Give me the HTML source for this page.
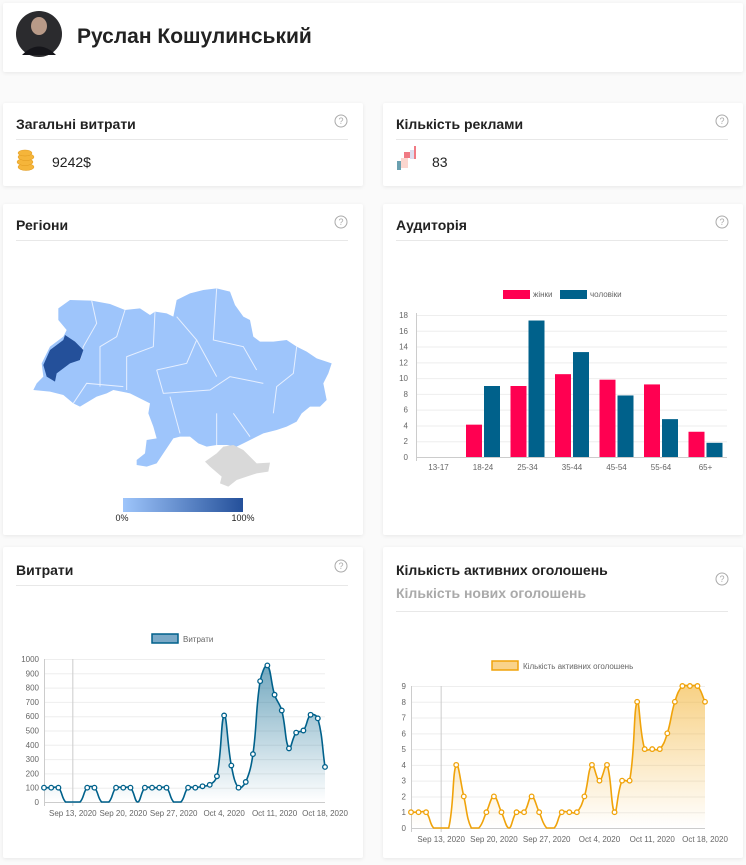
<!DOCTYPE html>
<html><head><meta charset="utf-8">
<style>
html,body{margin:0;padding:0;width:746px;height:865px;background:#fafafa;overflow:hidden;font-family:"Liberation Sans",sans-serif;}
.card{position:absolute;background:#fff;box-shadow:0 1px 4px rgba(0,0,0,0.08);border-radius:2px;}
svg{position:absolute;left:0;top:0;}
</style></head><body>
<div class="card" style="left:3px;top:3px;width:740px;height:69px"></div>
<div class="card" style="left:3px;top:103px;width:360px;height:83px"></div>
<div class="card" style="left:383px;top:103px;width:360px;height:83px"></div>
<div class="card" style="left:3px;top:204px;width:360px;height:331px"></div>
<div class="card" style="left:383px;top:204px;width:360px;height:331px"></div>
<div class="card" style="left:3px;top:547px;width:360px;height:311px"></div>
<div class="card" style="left:383px;top:547px;width:360px;height:311px"></div>
<svg id="s" width="746" height="865" xmlns="http://www.w3.org/2000/svg" font-family="Liberation Sans, sans-serif">
<defs>
<linearGradient id="gb" x1="0" y1="0" x2="0" y2="1"><stop offset="0" stop-color="#00618b" stop-opacity="0.55"/><stop offset="1" stop-color="#00618b" stop-opacity="0"/></linearGradient>
<linearGradient id="go" x1="0" y1="0" x2="0" y2="1"><stop offset="0" stop-color="#f0a30a" stop-opacity="0.5"/><stop offset="1" stop-color="#f0a30a" stop-opacity="0"/></linearGradient>
<linearGradient id="gm" x1="0" y1="0" x2="1" y2="0"><stop offset="0" stop-color="#9ec5fb"/><stop offset="1" stop-color="#24509a"/></linearGradient>
</defs>
<!-- header -->
<circle cx="39" cy="34" r="23" fill="#2b2b2e"/>
<ellipse cx="39" cy="26" rx="8" ry="9" fill="#b89a88"/>
<path d="M22 55 Q39 38 56 55 Z" fill="#15151a"/>
<text x="77" y="43" font-size="21" font-weight="bold" fill="#222">Руслан Кошулинський</text>
<!-- card titles -->
<g font-size="14" font-weight="bold" fill="#222">
<text x="16" y="129">Загальні витрати</text>
<text x="396" y="129">Кількість реклами</text>
<text x="16" y="230">Регіони</text>
<text x="396" y="230">Аудиторія</text>
<text x="16" y="575">Витрати</text>
<text x="396" y="575">Кількість активних оголошень</text>
<text x="396" y="598" fill="#aaa">Кількість нових оголошень</text>
</g>
<g stroke="#e8e8e8" stroke-width="1">
<line x1="16" y1="139.5" x2="348" y2="139.5"/><line x1="396" y1="139.5" x2="728" y2="139.5"/>
<line x1="16" y1="240.5" x2="348" y2="240.5"/><line x1="396" y1="240.5" x2="728" y2="240.5"/>
<line x1="16" y1="585.5" x2="348" y2="585.5"/><line x1="396" y1="611.5" x2="728" y2="611.5"/>
</g>
<g fill="none" stroke="#aaa" stroke-width="1" font-size="9" text-anchor="middle">
<circle cx="341" cy="121" r="6"/><circle cx="722" cy="121" r="6"/><circle cx="341" cy="222" r="6"/><circle cx="722" cy="222" r="6"/><circle cx="341" cy="566" r="6"/><circle cx="722" cy="579" r="6"/>
</g>
<g font-size="9" fill="#aaa" text-anchor="middle">
<text x="341" y="124">?</text><text x="722" y="124">?</text><text x="341" y="225">?</text><text x="722" y="225">?</text><text x="341" y="569">?</text><text x="722" y="582">?</text>
</g>
<!-- coins -->
<g fill="#f5b53a" stroke="#e09a20" stroke-width="0.5">
<ellipse cx="26" cy="167" rx="8" ry="3.5"/><ellipse cx="25" cy="162" rx="8" ry="3.5"/><ellipse cx="26" cy="157" rx="8" ry="3.5"/><ellipse cx="25" cy="153" rx="7" ry="3"/>
</g>
<text x="52" y="167" font-size="14" fill="#222">9242$</text>
<!-- megaphone -->
<rect x="397" y="161" width="4" height="9" fill="#6aa0b0"/><rect x="401" y="158" width="7" height="10" fill="#fbd6cf"/><rect x="404" y="152" width="6" height="6" fill="#f07a84"/><rect x="410" y="150" width="4" height="9" fill="#dde"/><rect x="414" y="146" width="2" height="13" fill="#f07a84"/>
<text x="432" y="167" font-size="14" fill="#222">83</text>
<!-- map -->
<g transform="translate(30 280) scale(0.33333)">
<path d="M85,85 L120,60 185,62 240,72 285,90 330,85 360,105 375,95 410,100 430,110 440,60 480,40 520,30 560,25 600,35 615,75 640,110 660,120 670,170 690,185 730,185 770,180 800,200 830,215 860,235 905,250 895,280 880,310 890,360 870,380 840,380 815,400 800,425 770,440 740,450 700,460 670,475 640,490 620,500 590,495 560,495 530,500 505,490 480,470 450,470 430,475 420,490 400,520 380,550 350,560 320,555 320,540 345,520 350,480 380,475 370,440 355,400 360,370 300,340 250,330 230,340 200,350 150,380 130,370 100,345 60,335 10,330 20,310 40,290 35,250 60,200 100,170 110,150 85,120 Z" fill="#9ec5fb"/>
<g fill="none" stroke="#e6efff" stroke-width="3">
<path d="M185,62 L200,130 160,200 150,240"/><path d="M285,90 L260,170 210,200 210,320"/><path d="M375,95 L370,200 290,230 290,330"/><path d="M440,110 L500,180 470,250 380,270"/><path d="M560,25 L550,180 640,200 680,270"/><path d="M800,200 L790,280 740,320 730,400"/><path d="M380,270 L400,340 540,330 600,290 700,310"/><path d="M420,350 L450,460"/><path d="M560,400 L560,495"/><path d="M610,400 L660,470"/><path d="M130,370 L170,310 280,320"/><path d="M500,180 L560,290"/></g>
<path d="M105,165 L135,185 160,210 150,240 120,250 80,280 75,305 50,290 40,255 60,210 100,180 Z" fill="#24509a"/>
<path d="M525,545 L560,520 580,500 610,495 640,510 680,550 720,548 715,575 680,580 650,590 620,600 595,620 570,610 575,590 540,560 Z" fill="#d9d9d9"/>
</g>
<rect x="123" y="498" width="120" height="14" fill="url(#gm)"/>
<text x="122" y="521" font-size="9" fill="#222" text-anchor="middle">0%</text>
<text x="243" y="521" font-size="9" fill="#222" text-anchor="middle">100%</text>
<g id="dyn"></g>
</svg>
<script>
var NS="http://www.w3.org/2000/svg",g=document.getElementById("dyn");
function el(t,a,txt){var e=document.createElementNS(NS,t);for(var k in a)e.setAttribute(k,a[k]);if(txt!=null)e.textContent=txt;g.appendChild(e);return e;}
// bar chart
el("rect",{x:503,y:290,width:27,height:9,fill:"#ff0051"});el("text",{x:533,y:297,"font-size":8,fill:"#666"},"жінки");
el("rect",{x:560,y:290,width:27,height:9,fill:"#00618b"});el("text",{x:590,y:297,"font-size":8,fill:"#666"},"чоловіки");
var y0=457,y18=315;function by(v){return y0-(y0-y18)*v/18;}
for(var v=0;v<=18;v+=2){el("line",{x1:416,x2:727,y1:by(v)+.5,y2:by(v)+.5,stroke:v?"#eee":"#ccc"});el("text",{x:408,y:by(v)+3,"font-size":8,fill:"#666","text-anchor":"end"},v);}
el("line",{x1:416.5,x2:416.5,y1:313,y2:461,stroke:"#ccc"});
var cats=["13-17","18-24","25-34","35-44","45-54","55-64","65+"],f=[0,4.1,9,10.5,9.8,9.2,3.2],m=[0,9,17.3,13.3,7.8,4.8,1.8];
for(var i=0;i<7;i++){var c=438.5+i*44.5;
 if(f[i])el("rect",{x:c-17,y:by(f[i]),width:16,height:y0-by(f[i]),fill:"#ff0051"});
 if(m[i])el("rect",{x:c+1,y:by(m[i]),width:16,height:y0-by(m[i]),fill:"#00618b"});
 el("text",{x:c,y:470,"font-size":8,fill:"#666","text-anchor":"middle"},cats[i]);}
function spline(pts,t,ymax){var cps=[];for(var i=0;i<pts.length;i++){var p=pts[i],pr=pts[i-1]||p,nx=pts[i+1]||p;
 var d1=Math.hypot(p[0]-pr[0],p[1]-pr[1]),d2=Math.hypot(nx[0]-p[0],nx[1]-p[1]),s=d1+d2||1,fa=t*d1/s,fb=t*d2/s;
 var c1=[p[0]-fa*(nx[0]-pr[0]),Math.min(ymax,p[1]-fa*(nx[1]-pr[1]))],c2=[p[0]+fb*(nx[0]-pr[0]),Math.min(ymax,p[1]+fb*(nx[1]-pr[1]))];cps.push([c1,c2]);}
 var d="M"+pts[0][0]+","+pts[0][1];for(var i=1;i<pts.length;i++){d+=" C"+cps[i-1][1][0]+","+cps[i-1][1][1]+" "+cps[i][0][0]+","+cps[i][0][1]+" "+pts[i][0]+","+pts[i][1];}return d;}
function line(o){var ys=function(v){return o.yb-(o.yb-o.yt)*v/o.max;};
 el("rect",{x:o.lx,y:o.ly,width:26,height:9,fill:o.lfill,stroke:o.col,"stroke-width":1.5});
 el("text",{x:o.lx+31,y:o.ly+8,"font-size":8,fill:"#666"},o.ltxt);
 for(var v=0;v<=o.max;v+=o.step){el("line",{x1:o.x0,x2:o.x1,y1:ys(v)+.5,y2:ys(v)+.5,stroke:v?"#eee":"#ccc"});el("text",{x:o.x0-5,y:ys(v)+3,"font-size":8,fill:"#666","text-anchor":"end"},v);}
 el("line",{x1:o.x0+.5,x2:o.x0+.5,y1:o.yt,y2:o.yb+4,stroke:"#ccc"});
 var dx=(o.x1-o.x0)/39;el("line",{x1:o.x0+4*dx,x2:o.x0+4*dx,y1:o.yt,y2:o.yb+4,stroke:"#ccc"});
 var labs=["Sep 13, 2020","Sep 20, 2020","Sep 27, 2020","Oct 4, 2020","Oct 11, 2020","Oct 18, 2020"];
 for(var k=0;k<6;k++)el("text",{x:o.x0+(4+7*k)*dx,y:o.yb+14,"font-size":8,fill:"#666","text-anchor":"middle"},labs[k]);
 var pts=o.d.map(function(v,i){return [o.x0+i*dx,ys(v)];});var d=spline(pts,0.4,o.yb);
 el("path",{d:d+" L"+o.x1+","+o.yb+" L"+o.x0+","+o.yb+" Z",fill:o.grad});
 el("path",{d:d,fill:"none",stroke:o.col,"stroke-width":1.6});
 pts.forEach(function(p,i){if(o.d[i])el("circle",{cx:p[0],cy:p[1],r:2.3,fill:"#fff",stroke:o.col,"stroke-width":1.3});});}
line({x0:44,x1:325,yt:659,yb:802,max:1000,step:100,col:"#00618b",grad:"url(#gb)",lfill:"#7aa9c7",lx:152,ly:634,ltxt:"Витрати",
 d:[100,100,100,0,0,0,100,100,0,0,100,100,100,0,100,100,100,100,0,0,100,100,110,120,180,605,255,100,140,335,845,955,750,640,375,485,500,610,585,245]});
line({x0:411,x1:705,yt:686,yb:828,max:9,step:1,col:"#f0a30a",grad:"url(#go)",lfill:"#f9d38a",lx:492,ly:661,ltxt:"Кількість активних оголошень",
 d:[1,1,1,0,0,0,4,2,0,0,1,2,1,0,1,1,2,1,0,0,1,1,1,2,4,3,4,1,3,3,8,5,5,5,6,8,9,9,9,8]});
</script>
</body></html>
